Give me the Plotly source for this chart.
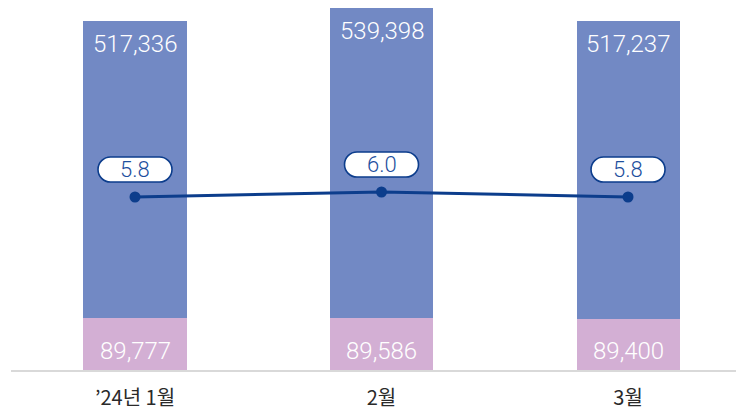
import plotly.graph_objects as go

categories = ["’24년 1월", "2월", "3월"]
bottom_vals = [89777, 89586, 89400]
top_vals = [517336, 539398, 517237]
rate_vals = [5.8, 6.0, 5.8]

BLUE = "#7289c4"
PINK = "#d3afd4"
NAVY = "#0c3d8c"
NUMFONT = "Roboto"

x_idx = list(range(len(categories)))
totals = [b + t for b, t in zip(bottom_vals, top_vals)]

fig = go.Figure()
fig.add_trace(go.Bar(x=x_idx, y=bottom_vals, marker=dict(color=PINK, line=dict(width=0)),
                     width=0.418, hoverinfo="skip"))
fig.add_trace(go.Bar(x=x_idx, y=top_vals, marker=dict(color=BLUE, line=dict(width=0)),
                     width=0.418, hoverinfo="skip"))
fig.add_trace(go.Scatter(x=x_idx, y=rate_vals, yaxis="y2", mode="lines+markers",
                         line=dict(color=NAVY, width=3),
                         marker=dict(color=NAVY, size=11), hoverinfo="skip"))

annotations = []
shapes = []
r, hw, cy = 12.5, 37.0, 27.5
s = hw - r
k = 0.5523 * r
pill = (f"M {-s},{cy-r} L {s},{cy-r} "
        f"C {s+k},{cy-r} {hw},{cy-k} {hw},{cy} "
        f"C {hw},{cy+k} {s+k},{cy+r} {s},{cy+r} "
        f"L {-s},{cy+r} "
        f"C {-s-k},{cy+r} {-hw},{cy+k} {-hw},{cy} "
        f"C {-hw},{cy-k} {-s-k},{cy-r} {-s},{cy-r} Z")

for i in x_idx:
    annotations.append(dict(x=i, y=totals[i], xref="x", yref="y", text=f"{top_vals[i]:,}",
                            showarrow=False, yanchor="top", yshift=-7,
                            font=dict(family=NUMFONT, size=24, color="white", weight=300)))
    annotations.append(dict(x=i, y=0, xref="x", yref="y", text=f"{bottom_vals[i]:,}",
                            showarrow=False, yanchor="bottom", yshift=3,
                            font=dict(family=NUMFONT, size=24, color="white", weight=300)))
    shapes.append(dict(type="path", xref="x", yref="y2", xsizemode="pixel", ysizemode="pixel",
                       xanchor=i, yanchor=rate_vals[i], path=pill,
                       fillcolor="white", line=dict(color=NAVY, width=1.6), layer="above"))
    annotations.append(dict(x=i, y=rate_vals[i], xref="x", yref="y2", text=f"{rate_vals[i]:.1f}",
                            showarrow=False, yanchor="middle", yshift=cy + 0.5,
                            font=dict(family=NUMFONT, size=22, color="#1d4f9e", weight=300)))

fig.update_layout(
    width=736, height=411,
    margin=dict(l=11, r=0, t=2, b=41),
    paper_bgcolor="white", plot_bgcolor="white",
    barmode="stack", showlegend=False,
    xaxis=dict(range=[-0.503, 2.438], tickmode="array", tickvals=x_idx, ticktext=categories,
               showgrid=False, zeroline=False, showline=True, linecolor="#d9d9d9", linewidth=1.5,
               ticks="", ticklabelstandoff=9,
               tickfont=dict(family="Noto Sans CJK KR", size=20, color="#2a2a2a")),
    yaxis=dict(range=[0, 640000], visible=False, showgrid=False, zeroline=False),
    yaxis2=dict(range=[-1.12, 13.6], overlaying="y", visible=False, showgrid=False, zeroline=False),
    annotations=annotations, shapes=shapes,
)

fig.write_html("out.html", config={"displayModeBar": False},
               post_script="document.body.style.margin='0';document.body.style.padding='0';")
